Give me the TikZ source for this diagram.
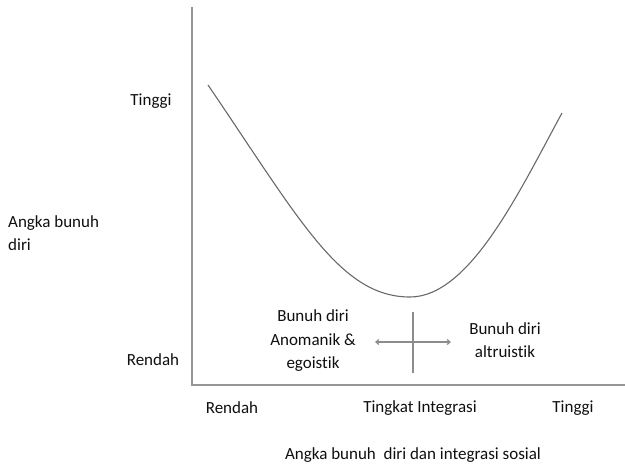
\documentclass[tikz,border=0pt]{standalone}
\usepackage{fontspec}
\setmainfont{Carlito}[Ligatures=NoCommon]
\usetikzlibrary{arrows.meta}
\definecolor{axisgray}{RGB}{150,150,150}
\definecolor{curvegray}{RGB}{105,105,105}
\definecolor{crossgray}{RGB}{140,140,140}
\definecolor{txt}{RGB}{15,15,15}
\begin{document}
\begin{tikzpicture}[x=1pt,y=-1pt,
  lbl/.style={text=txt,font=\fontsize{17}{23.5}\selectfont,inner sep=0pt},
  axisline/.style={draw=axisgray,line width=1.4pt},
  curveline/.style={draw=curvegray,line width=1.1pt},
  crossline/.style={draw=crossgray,line width=1.2pt}]
\useasboundingbox (0,0) rectangle (625,464);
% axes
\coordinate (top) at (192,7);
\coordinate (origin) at (192,385);
\coordinate (right) at (625,385);
\draw[axisline] (top) -- (origin) -- (right);
% curve
\coordinate (cs) at (208,85);
\coordinate (cmin) at (410,297);
\coordinate (ce) at (562,113);
\draw[curveline] (cs) .. controls (300,220) and (340,297) .. (cmin)
  .. controls (470,297) and (520,190) .. (ce);
% crosshair
\coordinate (vt) at (413,312);
\coordinate (vb) at (413,373);
\coordinate (hl) at (375,342);
\coordinate (hr) at (451,342);
\draw[crossline] (vt) -- (vb);
\draw[crossline,{Straight Barb[length=3pt,width=5pt]}-{Straight Barb[length=3pt,width=5pt]}] (hl) -- (hr);
% y labels
\node[lbl] (ytop) at (151,101) {Tinggi};
\node[lbl] (ybot) at (153,360) {Rendah};
\node[lbl,anchor=west,align=left] (ytitle) at (8,233) {Angka bunuh\\diri};
% x labels
\node[lbl] (xlow) at (232,408) {Rendah};
\node[lbl] (xmid) at (420,408) {Tingkat Integrasi};
\node[lbl] (xhigh) at (573,408) {Tinggi};
\node[lbl] (caption) at (413,455) {Angka bunuh\ \ diri dan integrasi sosial};
% annotations
\node[lbl,align=center] (anom) at (313,341) {Bunuh diri\\Anomanik \&\\egoistik};
\node[lbl,align=center] (altr) at (505,340) {Bunuh diri\\altruistik};
\end{tikzpicture}
\end{document}
